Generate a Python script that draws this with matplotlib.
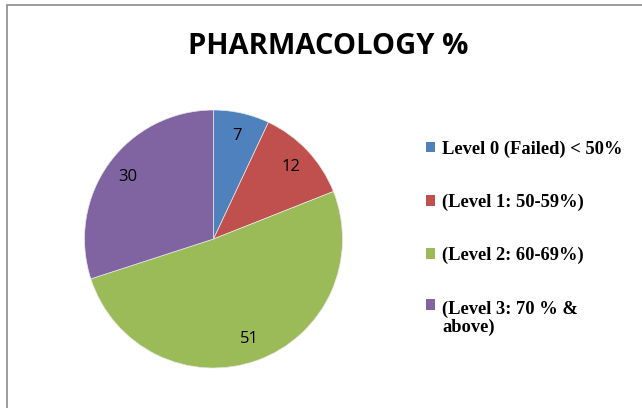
import matplotlib.pyplot as plt
from matplotlib.patches import Rectangle, Patch
from matplotlib.legend_handler import HandlerPatch

# Data
levels = ['Level 0 (Failed) < 50%', '(Level 1: 50-59%)',
          '(Level 2: 60-69%)', '(Level 3: 70 % &\nabove)']
values = [7, 12, 51, 30]
colors = ['#4F81BD', '#C0504D', '#9BBB59', '#8064A2']

W, H = 642, 408
fig = plt.figure(figsize=(W / 100, H / 100), dpi=100)

# chart border (right/bottom edges are cut off in the original)
fig.patches.append(Rectangle((7 / W, -0.05), 1.0, 1 - 5 / H + 0.05,
                             transform=fig.transFigure, fill=False,
                             edgecolor='#8c8c8c', linewidth=1.2))

# pie axes
cx, cy, r = 213.5, 239, 129
ax = fig.add_axes([(cx - r) / W, 1 - (cy + r) / H, 2 * r / W, 2 * r / H])
wedges, texts = ax.pie(values, colors=colors, startangle=90, counterclock=False,
                       labels=[str(v) for v in values], labeldistance=0.82,
                       wedgeprops=dict(edgecolor='#e8e8e8', linewidth=0.5),
                       textprops=dict(fontsize=12, family='Open Sans',
                                      ha='center', va='center'))
ax.set_xlim(-1, 1)
ax.set_ylim(-1, 1)
ax.set_aspect('equal')

fig.text(328 / W, 1 - 47 / H, 'PHARMACOLOGY %', ha='center', va='center',
         fontsize=21, fontweight='bold', family='Open Sans')


class TopPatch(HandlerPatch):
    # put the square next to the first line of a two-line label
    def create_artists(self, legend, orig_handle, xdescent, ydescent,
                       width, height, fontsize, trans):
        arts = super().create_artists(legend, orig_handle, xdescent, ydescent,
                                      width, height, fontsize, trans)
        for a in arts:
            a.set_y(a.get_y() + 0.75 * fontsize)
        return arts


handles = [Patch(facecolor=c, edgecolor='none') for c in colors]
leg = fig.legend(handles, levels, loc='upper left',
                 bbox_to_anchor=(417 / W, 1 - 131 / H),
                 handler_map={handles[3]: TopPatch()},
                 frameon=False, handlelength=0.5, handleheight=0.5, handletextpad=0.35,
                 labelspacing=1.95, borderpad=0,
                 prop=dict(family='Liberation Serif', weight='bold', size=13.3))
leg.get_texts()[3].set_linespacing(1.1)

fig.savefig('out.png', dpi=100)
